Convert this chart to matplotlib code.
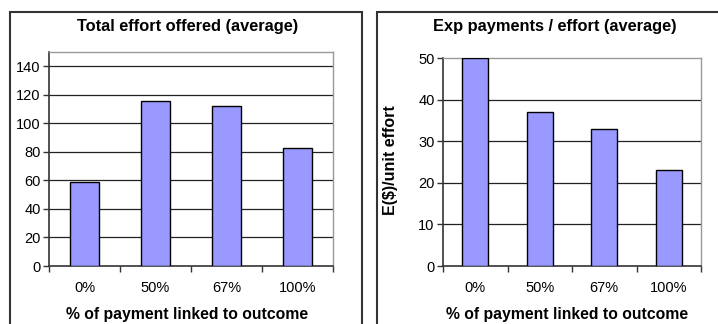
import numpy as np
import matplotlib.pyplot as plt
from matplotlib.patches import Rectangle

plt.rcParams['font.family'] = ['Liberation Sans', 'DejaVu Sans']

W, H = 718, 324

categories = ["0%", "50%", "67%", "100%"]
effort = [59, 116, 112, 83]
pay_per_effort = [50, 37, 33, 23]

bar_color = "#9999ff"


def px_axes(fig, x0, x1, ytop, ybot):
    # pixel box -> figure fraction
    return fig.add_axes([x0 / W, 1 - ybot / H, (x1 - x0) / W, (ybot - ytop) / H])


def draw_panel(ax, values, ymax, ystep):
    x = np.arange(len(values))
    ax.bar(x, values, width=0.4, color=bar_color, edgecolor="black", linewidth=1.0, zorder=3)
    ax.set_xlim(-0.5, len(values) - 0.5)
    ax.set_ylim(0, ymax)
    ax.set_yticks(np.arange(0, ymax, ystep) if ymax % ystep else np.arange(0, ymax + 1, ystep))
    for y in ax.get_yticks():
        if 0 < y < ymax:
            ax.axhline(y, color="#222222", linewidth=0.9, zorder=1)
    ax.set_xticks(x)
    ax.set_xticklabels(categories)
    ax.set_xticks(np.arange(-0.5, len(values), 1.0), minor=True)
    ax.tick_params(axis="x", which="major", length=0, pad=11, labelsize=10.5)
    ax.tick_params(axis="x", which="minor", length=4, width=1.0, direction="out", color="#333333")
    ax.tick_params(axis="y", length=4, width=1.0, direction="out", color="#333333", labelsize=10.5, pad=2)
    for s in ["top", "right"]:
        ax.spines[s].set_color("#999999")
        ax.spines[s].set_linewidth(1.0)
    for s in ["left", "bottom"]:
        ax.spines[s].set_color("#333333")
        ax.spines[s].set_linewidth(1.2)
    ax.set_facecolor("white")


fig = plt.figure(figsize=(W / 100, H / 100), dpi=100)

# outer chart frames
fig.patches.append(Rectangle((10 / W, -0.1), (362 - 10) / W, 1.1 - 12 / H, transform=fig.transFigure,
                             fill=False, edgecolor="#333333", linewidth=1.5))
fig.patches.append(Rectangle((377 / W, -0.1), 0.5, 1.1 - 12 / H, transform=fig.transFigure,
                             fill=False, edgecolor="#333333", linewidth=1.5))

ax1 = px_axes(fig, 49, 333, 52, 266)
draw_panel(ax1, effort, 150, 20)

ax2 = px_axes(fig, 443, 701, 58, 266)
draw_panel(ax2, pay_per_effort, 50, 10)

fig.text(187.5 / W, 1 - 27 / H, "Total effort offered (average)", ha="center", va="center",
         fontsize=11.8, fontweight="bold")
fig.text(555 / W, 1 - 27 / H, "Exp payments / effort (average)", ha="center", va="center",
         fontsize=11.8, fontweight="bold")
fig.text(187.5 / W, 1 - 314 / H, "% of payment linked to outcome", ha="center", va="center",
         fontsize=11.3, fontweight="bold")
fig.text(567.5 / W, 1 - 314 / H, "% of payment linked to outcome", ha="center", va="center",
         fontsize=11.3, fontweight="bold")
fig.text(391 / W, 1 - 160 / H, "E($)/unit effort", ha="center", va="center", rotation=90,
         fontsize=11.5, fontweight="bold")

fig.savefig("out.png", dpi=100)
